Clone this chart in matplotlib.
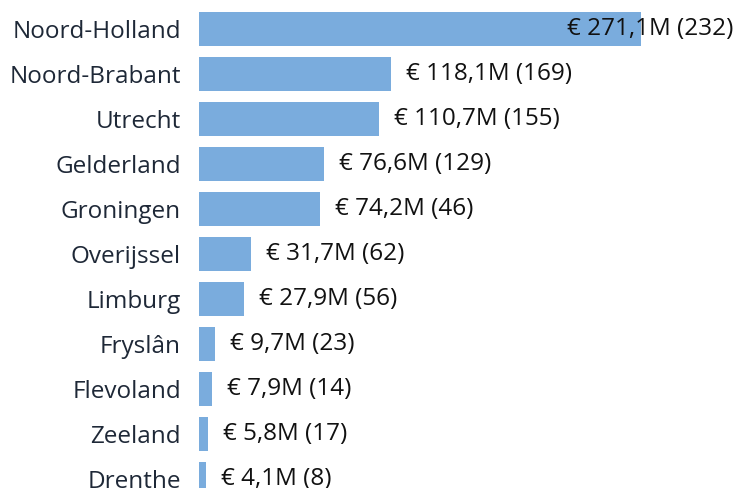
import matplotlib
matplotlib.use("Agg")
import matplotlib.pyplot as plt

# data
provinces = ["Noord-Holland", "Noord-Brabant", "Utrecht", "Gelderland", "Groningen",
             "Overijssel", "Limburg", "Fryslân", "Flevoland", "Zeeland", "Drenthe"]
amounts = [271.1, 118.1, 110.7, 76.6, 74.2, 31.7, 27.9, 9.7, 7.9, 5.8, 4.1]  # million euro
counts = [232, 169, 155, 129, 46, 62, 56, 23, 14, 17, 8]

BAR_COLOR = "#7aacdd"
FS = 17.5
plt.rcParams["font.family"] = ["Open Sans", "DejaVu Sans"]

fig = plt.figure(figsize=(7.38, 4.88), dpi=100)
ax = fig.add_axes([199 / 738, 0, 539 / 738, 1])

y = list(range(len(provinces)))
ax.barh(y, amounts, height=0.76, color=BAR_COLOR)
ax.set_xlim(0, 330.7)
ax.set_ylim(10.2, -0.644)

ax.set_yticks(y)
ax.set_yticklabels(provinces, fontsize=FS, color="#1e2837")
ax.tick_params(axis="y", length=0, pad=13)
ax.set_xticks([])
for s in ax.spines.values():
    s.set_visible(False)

for i, (a, c) in enumerate(zip(amounts, counts)):
    txt = f"€ {a:.1f}M ({c})".replace(".", ",")
    if i == 0:
        # biggest label does not fit right of its bar, pushed back inside
        ax.annotate(txt, (1, i), xycoords=("axes fraction", "data"), xytext=(-5, 0),
                    textcoords="offset pixels", ha="right", va="center",
                    fontsize=FS, color="#111111")
    else:
        ax.annotate(txt, (a, i), xytext=(15, 0), textcoords="offset pixels",
                    ha="left", va="center", fontsize=FS, color="#111111")

fig.savefig("out.png", dpi=100)
